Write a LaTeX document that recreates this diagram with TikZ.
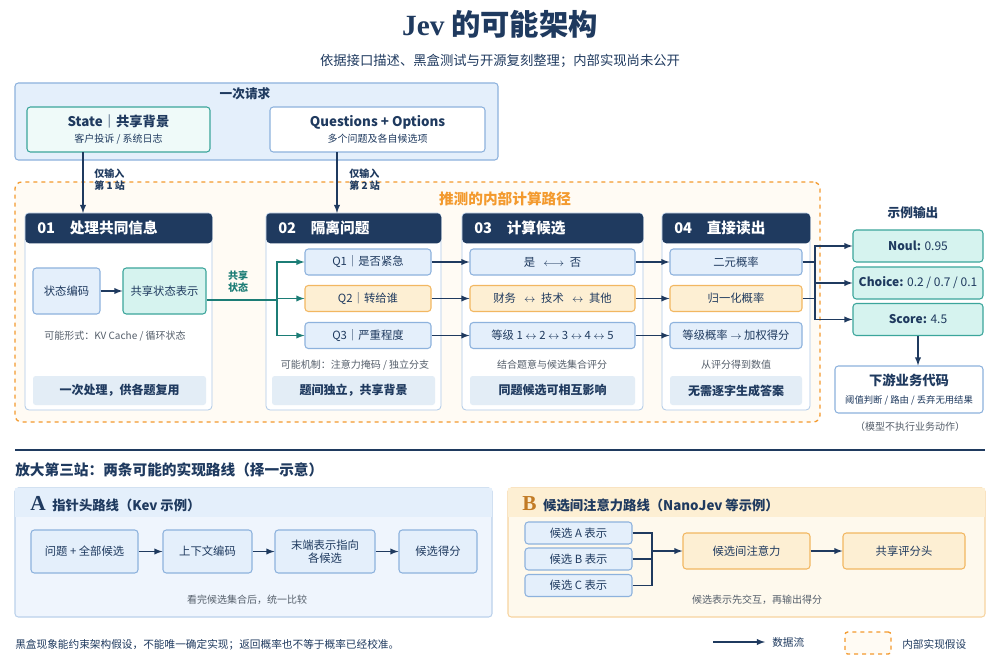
\documentclass[tikz,border=0pt]{standalone}
\usepackage{fontspec}
\setmainfont{Noto Sans CJK SC}
\usetikzlibrary{positioning}
\definecolor{navy}{HTML}{1F3A5F}
\definecolor{bluefill}{HTML}{E4EFFB}
\definecolor{blueline}{HTML}{8DB2DD}
\definecolor{orfill}{HTML}{FDEFD3}
\definecolor{orline}{HTML}{F2B761}
\definecolor{tealfill}{HTML}{D6F3EF}
\definecolor{tealline}{HTML}{3BA59B}
\definecolor{tealtext}{HTML}{1C7D76}
\definecolor{dash}{HTML}{F39A2E}
\definecolor{bandfill}{HTML}{E3EDF6}
\definecolor{graytext}{HTML}{555F6B}
\begin{document}
\begin{tikzpicture}
[x=0.75pt, y=-0.75pt, every node/.style={inner sep=0pt, align=center, text=navy},
 box/.style={draw=blueline, fill=bluefill, rounded corners=2.5pt, line width=0.8pt, font=\fontsize{8.5}{10}\selectfont},
 obox/.style={box, draw=orline, fill=orfill},
 tbox/.style={box, draw=tealline, fill=tealfill},
 card/.style={draw=blueline!70, fill=white, rounded corners=3pt, line width=0.6pt},
 head/.style={fill=navy, rounded corners=3pt, text=white, font=\fontsize{11}{13}\selectfont\bfseries, anchor=north west, inner xsep=9pt},
 band/.style={fill=bandfill, rounded corners=2pt, font=\fontsize{9}{11}\selectfont\bfseries},
 note/.style={text=graytext, font=\fontsize{7.5}{9}\selectfont},
 flow/.style={draw=navy, line width=1.1pt, -latex},
 tflow/.style={draw=tealtext, line width=1.1pt, -latex}]
\useasboundingbox (0,0) rectangle (1000,667);
\fill[white] (0,0) rectangle (1000,667);
% title
\node (title) at (500,24) {\fontsize{22}{26}\selectfont\bfseries{\fontspec{Liberation Serif}Jev} 的可能架构};
\node (sub) at (500,61) {\fontsize{10}{12}\selectfont 依据接口描述、黑盒测试与开源复刻整理；内部实现尚未公开};
% request
\node (req) [box, minimum width=483*0.75pt, minimum height=77*0.75pt] at (256.5,121.5) {};
\node (reqlbl) at (245,94) {\fontsize{9.5}{11}\selectfont\bfseries 一次请求};
\node (state) [tbox, fill=tealfill!40, minimum width=183*0.75pt, minimum height=45*0.75pt] at (118.5,129.5) {{\fontsize{10}{12}\selectfont\bfseries State｜共享背景}\\[2pt]{\fontsize{7.5}{9}\selectfont 客户投诉 / 系统日志}};
\node (qs) [box, fill=white, minimum width=215*0.75pt, minimum height=45*0.75pt] at (377.5,129.5) {{\fontsize{10}{12}\selectfont\bfseries Questions + Options}\\[2pt]{\fontsize{7.5}{9}\selectfont 多个问题及各自候选项}};
% inner path
\node (inner) [draw=dash, dashed, line width=1pt, fill=orfill!25, rounded corners=5pt, minimum width=805*0.75pt, minimum height=240*0.75pt] at (417.5,302) {};
\node (innerlbl) at (505,199) {\fontsize{11}{13}\selectfont\bfseries\color{dash}推测的内部计算路径};
% stage cards
\foreach \nm/\xa/\xb/\ttl in {c1/25/212/01\quad 处理共同信息, c2/266/441/02\quad 隔离问题, c3/462/643/03\quad 计算候选, c4/662/810/04\quad 直接读出}{
  \node (\nm) [card, minimum width={(\xb-\xa)*0.75pt}, minimum height=197*0.75pt] at ({(\xa+\xb)/2},311.5) {};
  \node (\nm h) [head, minimum width={(\xb-\xa)*0.75pt}, minimum height=30*0.75pt, text width={(\xb-\xa)*0.75pt-18pt}, align=left] at (\xa,213) {\ttl};
}
\draw[flow] (83,152) -- (c1h.north -| 83,0);
\draw[flow] (337,152) -- (c2h.north -| 337,0);
\node (in1) [font=\fontsize{7.5}{9}\selectfont\bfseries, align=left, anchor=west] at (94,180) {仅输入\\第 1 站};
\node (in2) [font=\fontsize{7.5}{9}\selectfont\bfseries, align=left, anchor=west] at (349,180) {仅输入\\第 2 站};
% 01
\node (enc) [box, minimum width=67*0.75pt, minimum height=46*0.75pt] at (66.5,291) {状态编码};
\node (shr) [tbox, minimum width=83*0.75pt, minimum height=46*0.75pt] at (164.5,291) {共享状态表示};
\draw[flow] (enc) -- (shr);
\node (n1) [note] at (115,336) {可能形式：KV Cache / 循环状态};
\node (b1) [band, minimum width=173*0.75pt, minimum height=29*0.75pt] at (119.5,390.5) {一次处理，供各题复用};
% 02
\node (q1) [box, minimum width=126*0.75pt, minimum height=26*0.75pt] at (368,262) {Q1｜是否紧急};
\node (q2) [obox, minimum width=126*0.75pt, minimum height=26*0.75pt] at (368,298.5) {Q2｜转给谁};
\node (q3) [box, minimum width=126*0.75pt, minimum height=26*0.75pt] at (368,335.5) {Q3｜严重程度};
\coordinate (jn) at (277,300);
\draw[draw=tealtext, line width=1.1pt] (shr.east |- jn) -- (jn);
\node (shl) [font=\fontsize{7.5}{9}\selectfont\bfseries, text=tealtext] at (238,282) {共享\\状态};
\foreach \q in {q1,q2,q3} \draw[tflow] (jn) |- (\q.west);
\node (n2) [note] at (355,365) {可能机制：注意力掩码 / 独立分支};
\node (b2) [band, minimum width=163*0.75pt, minimum height=29*0.75pt] at (353.5,390.5) {题间独立，共享背景};
% 03
\node (r1) [box, minimum width=165*0.75pt, minimum height=26*0.75pt] at (552.5,262) {是 \enspace$\longleftrightarrow$\enspace 否};
\node (r2) [obox, minimum width=165*0.75pt, minimum height=26*0.75pt] at (552.5,298.5) {财务 \enspace$\leftrightarrow$\enspace 技术 \enspace$\leftrightarrow$\enspace 其他};
\node (r3) [box, minimum width=165*0.75pt, minimum height=26*0.75pt] at (552.5,335.5) {等级 1 $\leftrightarrow$ 2 $\leftrightarrow$ 3 $\leftrightarrow$ 4 $\leftrightarrow$ 5};
\node (n3) [note] at (552,365) {结合题意与候选集合评分};
\node (b3) [band, minimum width=165*0.75pt, minimum height=29*0.75pt] at (552.5,390.5) {同题候选可相互影响};
% 04
\node (s1) [box, minimum width=132*0.75pt, minimum height=26*0.75pt] at (736,262) {二元概率};
\node (s2) [obox, minimum width=132*0.75pt, minimum height=26*0.75pt] at (736,298.5) {归一化概率};
\node (s3) [box, minimum width=132*0.75pt, minimum height=26*0.75pt] at (736,335.5) {等级概率 $\rightarrow$ 加权得分};
\node (n4) [note] at (736,365) {从评分得到数值};
\node (b4) [band, minimum width=132*0.75pt, minimum height=29*0.75pt] at (736,390.5) {无需逐字生成答案};
\foreach \a/\b in {q1/r1,q2/r2,q3/r3,r1/s1,r2/s2,r3/s3} \draw[flow] (\a) -- (\b);
% outputs
\node (outl) at (913,213) {\fontsize{9.5}{11}\selectfont\bfseries 示例输出};
\node (o1) [tbox, minimum width=130*0.75pt, minimum height=32*0.75pt] at (918,246) {\fontsize{9}{11}\selectfont\textbf{Noul:} 0.95};
\node (o2) [tbox, minimum width=130*0.75pt, minimum height=32*0.75pt] at (918,283) {\fontsize{9}{11}\selectfont\textbf{Choice:} 0.2 / 0.7 / 0.1};
\node (o3) [tbox, minimum width=130*0.75pt, minimum height=32*0.75pt] at (918,319.5) {\fontsize{9}{11}\selectfont\textbf{Score:} 4.5};
\coordinate (bus) at (815,283);
\draw[navy, line width=1.1pt] (s1.east) -- (s1.east -| bus) (s2.east) -- (s2.east -| bus);
\foreach \o in {o1,o2,o3} \draw[flow] (bus) |- (\o.west);
\node (down) [box, fill=white, minimum width=148*0.75pt, minimum height=47*0.75pt] at (909,389.5) {{\fontsize{10}{12}\selectfont\bfseries 下游业务代码}\\[3pt]{\fontsize{7}{9}\selectfont 阈值判断 / 路由 / 丢弃无用结果}};
\draw[flow] (o3) -- (o3.south |- down.north);
\node (nexec) [note] at (910,427) {（模型不执行业务动作）};
% zoom section
\draw[navy, line width=1.3pt] (15,450) -- (985,450);
\node (zt) [anchor=west] at (15,470) {\fontsize{11}{13}\selectfont\bfseries 放大第三站：两条可能的实现路线（择一示意）};
\node (pa) [box, draw=blueline!60, fill=bluefill!60, minimum width=477*0.75pt, minimum height=129*0.75pt] at (253.5,552.5) {};
\fill[bluefill] ([xshift=0.5pt,yshift=-0.5pt]pa.north west) rectangle (491.5,517);
\node (pal) [anchor=west] at (30,504) {{\fontsize{16}{18}\selectfont\bfseries\fontspec{Liberation Serif}A}\enspace{\fontsize{10}{12}\selectfont\bfseries 指针头路线（Kev 示例）}};
\node (a1) [box, minimum width=107*0.75pt, minimum height=43*0.75pt] at (84.5,551.5) {问题 + 全部候选};
\node (a2) [box, minimum width=89*0.75pt, minimum height=43*0.75pt] at (207.5,551.5) {上下文编码};
\node (a3) [box, minimum width=100*0.75pt, minimum height=43*0.75pt] at (325,551.5) {末端表示指向\\各候选};
\node (a4) [box, minimum width=78*0.75pt, minimum height=43*0.75pt] at (438,551.5) {候选得分};
\foreach \a/\b in {a1/a2,a2/a3,a3/a4} \draw[flow] (\a) -- (\b);
\node (na) [note] at (247,600) {看完候选集合后，统一比较};
\node (pb) [box, draw=orline!60, fill=orfill!40, minimum width=477*0.75pt, minimum height=129*0.75pt] at (746.5,552.5) {};
\fill[orfill] ([xshift=0.5pt,yshift=-0.5pt]pb.north west) rectangle (984.5,517);
\node (pbl) [anchor=west] at (522,504) {{\fontsize{16}{18}\selectfont\bfseries\fontspec{Liberation Serif}\color{dash!80!black}B}\enspace{\fontsize{10}{12}\selectfont\bfseries 候选间注意力路线（NanoJev 等示例）}};
\node (ca) [box, minimum width=107*0.75pt, minimum height=22*0.75pt] at (578.5,533) {候选 A 表示};
\node (cb) [box, minimum width=107*0.75pt, minimum height=22*0.75pt] at (578.5,559) {候选 B 表示};
\node (cc) [box, minimum width=107*0.75pt, minimum height=22*0.75pt] at (578.5,585.5) {候选 C 表示};
\node (att) [obox, minimum width=127*0.75pt, minimum height=36*0.75pt] at (746.5,551) {候选间注意力};
\node (hd) [obox, minimum width=122*0.75pt, minimum height=36*0.75pt] at (904,551) {共享评分头};
\coordinate (mg) at (652,551);
\draw[navy, line width=1.1pt] (ca.east) -| (mg) (cc.east) -| (mg) (cb.east) -- (cb.east -| mg);
\draw[flow] (mg) -- (att);
\draw[flow] (att) -- (hd);
\node (nb) [note] at (757,600) {候选表示先交互，再输出得分};
% footer
\node (foot) [anchor=west, font=\fontsize{8}{10}\selectfont] at (15,645) {黑盒现象能约束架构假设，不能唯一确定实现；返回概率也不等于概率已经校准。};
\coordinate (lg1) at (713,642);
\coordinate (lg2) at (765,642);
\draw[flow] (lg1) -- (lg2);
\node (lgt) [anchor=west, font=\fontsize{8}{10}\selectfont] at (772,642) {数据流};
\node (lgb) [draw=dash, dashed, line width=1pt, fill=orfill!25, rounded corners=2pt, minimum width=46*0.75pt, minimum height=22*0.75pt] at (868,643) {};
\node (lgbt) [anchor=west, font=\fontsize{8}{10}\selectfont] at (902,644) {内部实现假设};
\end{tikzpicture}
\end{document}
